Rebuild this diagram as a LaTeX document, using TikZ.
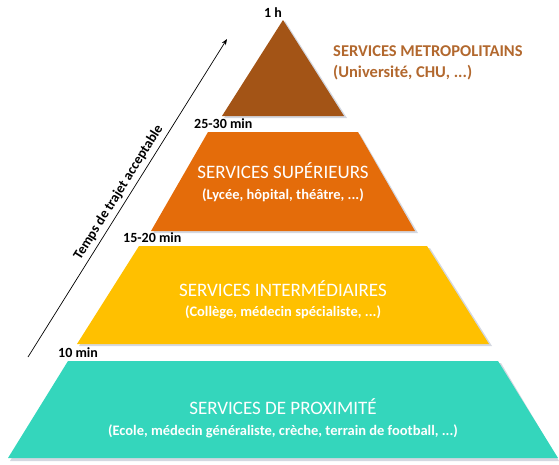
\documentclass[tikz,border=0pt]{standalone}
\usepackage{fontspec}
\setmainfont{Carlito}
\usetikzlibrary{arrows.meta}
\definecolor{cbrown}{RGB}{163,84,22}
\definecolor{corange}{RGB}{228,108,10}
\definecolor{cyellow}{RGB}{255,192,0}
\definecolor{cteal}{RGB}{52,214,188}
\definecolor{ctxtbrown}{RGB}{178,104,46}
\definecolor{cshadow}{RGB}{212,216,225}
\tikzset{
  layer/.style={draw=none},
  shade2/.style={fill=cshadow},
  ttl/.style={text=white,font=\fontsize{19}{21}\selectfont,inner sep=0pt},
  sub/.style={text=white,font=\bfseries\fontsize{14.5}{16}\selectfont,inner sep=0pt},
  tlabel/.style={text=black,font=\bfseries\fontsize{14}{16}\selectfont,inner sep=0pt},
  metro/.style={text=ctxtbrown,font=\bfseries\fontsize{16.5}{18}\selectfont,inner sep=0pt,anchor=west},
}
\begin{document}
\begin{tikzpicture}[x=1pt,y=-1pt]
\useasboundingbox (0,0) rectangle (559,464);
% shadows
\fill[shade2] (285,21) -- (347,118) -- (224,118) -- cycle;
\fill[shade2] (210,134) -- (360,134) -- (418,233) -- (153,233) -- cycle;
\fill[shade2] (141,248) -- (430,248) -- (492,346) -- (79,346) -- cycle;
\fill[shade2] (70,363) -- (501,363) -- (559,461) -- (10,461) -- cycle;
% layers
\fill[cbrown,layer] (283,20) -- (344,116) -- (222,116) -- cycle;
\fill[corange,layer] (208,132) -- (358,132) -- (415,231) -- (151,231) -- cycle;
\fill[cyellow,layer] (139,246) -- (427,246) -- (489,344) -- (77,344) -- cycle;
\fill[cteal,layer] (68,361) -- (498,361) -- (558,458) -- (8,458) -- cycle;
% layer texts
\node[ttl] (t2) at (283,171) {SERVICES SUPÉRIEURS};
\node[sub] (s2) at (283,195) {(Lycée, hôpital, théâtre, ...)};
\node[ttl] (t3) at (283,289) {SERVICES INTERMÉDIAIRES};
\node[sub] (s3) at (283,312) {(Collège, médecin spécialiste, ...)};
\node[ttl] (t4) at (283,407) {SERVICES DE PROXIMITÉ};
\node[sub] (s4) at (283,431) {(Ecole, médecin généraliste, crèche, terrain de football, ...)};
\node[metro] (t1) at (333,51) {SERVICES METROPOLITAINS};
\node[metro] (s1) at (333,73) {(Université, CHU, ...)};
% time labels
\node[tlabel] (h1) at (273,13) {1 h};
\node[tlabel,anchor=west] (h2) at (194,124) {25-30 min};
\node[tlabel,anchor=west] (h3) at (123,238) {15-20 min};
\node[tlabel,anchor=west] (h4) at (58,353) {10 min};
% arrow
\coordinate (a0) at (28,357);
\coordinate (a1) at (227,39);
\draw[-{Stealth[length=6pt,width=4.5pt]},line width=0.7pt] (a0) -- (a1)
  node[pos=0.5,sloped,above=4pt,font=\bfseries\fontsize{14}{16}\selectfont,inner sep=0pt] (lab) {Temps de trajet acceptable};
\end{tikzpicture}
\end{document}
